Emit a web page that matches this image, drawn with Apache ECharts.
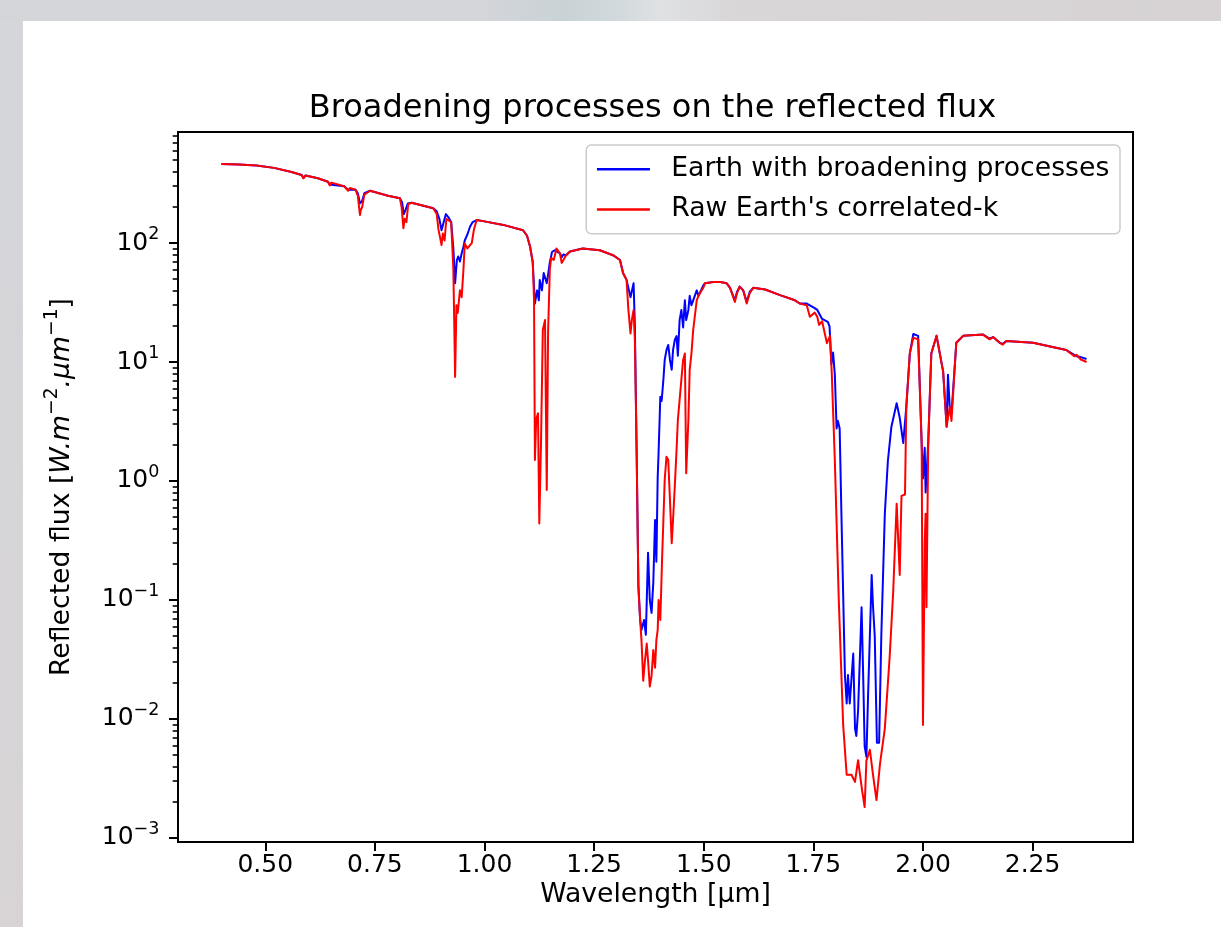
<!DOCTYPE html>
<html><head><meta charset="utf-8">
<script src="https://cdn.jsdelivr.net/npm/echarts@6/dist/echarts.min.js"></script>
<style>
html,body{margin:0;padding:0;width:1221px;height:927px;overflow:hidden;}
body{background:linear-gradient(90deg,#d3d5d9 0%,#d3d5d9 40%,#c9d3d7 46%,#cfd8db 50%,#dfe1e3 54%,#d9d6d8 60%,#d7d3d5 100%);}
#leftstrip{position:absolute;left:0;top:21px;width:23px;height:906px;background:linear-gradient(180deg,#d4d6da,#d8d4d6);}
#bg{position:absolute;left:23px;top:21px;width:1198px;height:906px;background:#fff;}
#chart{position:absolute;left:0;top:0;width:1221px;height:927px;}
</style></head>
<body>
<div id="leftstrip"></div><div id="bg"></div><div id="chart"></div>
<script>
// ---- data (wavelength in µm, flux in W.m^-2.µm^-1) ----
const xTickValues = [0.5, 0.75, 1.0, 1.25, 1.5, 1.75, 2.0, 2.25];
const yTickValues = [1e-3, 1e-2, 1e-1, 1e0, 1e1, 1e2];
const seriesNames = ['Earth with broadening processes', "Raw Earth's correlated-k"];

const broadenedSpectrum = [
[0.400,461],[0.440,457],[0.480,449],[0.520,428],[0.560,395],[0.583,373],[0.587,352],[0.592,370],[0.620,350],[0.643,327],
[0.647,310],[0.651,322],[0.680,300],[0.689,280],[0.693,290],[0.706,280],[0.711,262],[0.716,216],[0.721,225],[0.726,262],
[0.739,275],[0.780,250],[0.807,238],[0.812,220],[0.816,175],[0.820,190],[0.825,215],[0.834,218],[0.883,196],[0.891,185],
[0.897,160],[0.902,128],[0.907,150],[0.912,175],[0.917,166],[0.924,150],[0.929,90],[0.933,46],[0.937,72],[0.940,77],
[0.944,70],[0.948,82],[0.952,93],[0.955,105],[0.961,118],[0.967,137],[0.973,150],[0.982,156],[1.000,152],[1.043,142],
[1.088,128],[1.097,115],[1.104,93],[1.110,69],[1.115,31],[1.120,40],[1.124,33],[1.126,49],[1.131,40],[1.135,56],
[1.142,46],[1.145,54],[1.149,69],[1.154,84],[1.160,87],[1.164,90],[1.172,82],[1.176,76],[1.180,80],[1.186,79],
[1.195,85],[1.224,90],[1.263,87],[1.293,79],[1.309,72],[1.316,56],[1.324,49],[1.333,35],[1.340,46],[1.343,20],
[1.347,1.72],[1.351,0.13],[1.355,0.068],[1.358,0.056],[1.364,0.068],[1.368,0.051],[1.373,0.25],[1.377,0.10],[1.381,0.078],[1.385,0.14],
[1.389,0.47],[1.392,0.21],[1.395,1.08],[1.397,1.72],[1.401,5.1],[1.404,4.7],[1.408,7.1],[1.411,10.4],[1.415,12.6],[1.419,13.9],
[1.423,10.4],[1.427,8.6],[1.430,12.6],[1.434,15.3],[1.438,16.5],[1.441,11.3],[1.445,22.5],[1.449,27.4],[1.453,19.5],[1.457,33],
[1.460,22.5],[1.465,27.4],[1.468,36],[1.472,30],[1.476,33],[1.484,40],[1.488,36],[1.499,44],[1.503,46],[1.522,47],
[1.538,47],[1.552,46],[1.560,42],[1.571,33],[1.576,39],[1.582,43],[1.590,40],[1.598,32],[1.605,39],[1.613,42],
[1.640,40.7],[1.674,36.5],[1.708,33],[1.719,31],[1.735,31],[1.753,28.4],[1.759,27.4],[1.770,23],[1.783,21.7],[1.787,19.8],
[1.791,9.6],[1.795,12],[1.799,7.8],[1.803,2.76],[1.806,3.2],[1.810,2.76],[1.814,0.53],[1.822,0.0234],[1.826,0.0135],[1.829,0.0234],
[1.833,0.0135],[1.841,0.0355],[1.845,0.0083],[1.848,0.0072],[1.852,0.0117],[1.860,0.087],[1.864,0.02],[1.867,0.0059],[1.871,0.0048],[1.875,0.0166],
[1.883,0.162],[1.886,0.09],[1.890,0.050],[1.895,0.0063],[1.900,0.0063],[1.905,0.050],[1.913,0.53],[1.920,1.48],[1.928,2.86],[1.940,4.5],
[1.947,3.4],[1.955,2.09],[1.962,4.2],[1.970,11.8],[1.978,17.2],[1.989,16.6],[1.997,2.09],[2.000,1.05],[2.004,1.9],[2.006,0.8],
[2.012,2.09],[2.019,11.8],[2.031,16.6],[2.046,8.3],[2.054,2.86],[2.057,7.8],[2.061,4.2],[2.065,3.66],[2.076,14.5],[2.092,16.6],
[2.137,17.0],[2.152,15.7],[2.160,16.2],[2.175,14.5],[2.182,14.2],[2.190,15.0],[2.251,14.5],[2.327,12.6],[2.345,11.5],[2.350,11.2],
[2.360,11.0],[2.373,10.6]
];

const rawSpectrum = [
[0.400,461],[0.440,457],[0.480,449],[0.520,428],[0.560,395],[0.583,373],[0.587,350],[0.592,370],[0.620,350],[0.643,327],
[0.647,305],[0.651,322],[0.680,300],[0.689,275],[0.693,290],[0.706,280],[0.711,250],[0.716,172],[0.718,190],[0.721,200],
[0.726,255],[0.739,275],[0.780,250],[0.807,238],[0.811,200],[0.815,133],[0.818,160],[0.822,150],[0.826,212],[0.834,218],
[0.883,196],[0.891,175],[0.895,130],[0.899,110],[0.902,96],[0.905,120],[0.909,105],[0.913,160],[0.917,166],[0.924,150],
[0.929,60],[0.933,7.5],[0.936,30],[0.939,25.8],[0.944,40],[0.948,35],[0.952,60],[0.955,99],[0.961,90],[0.971,100],
[0.976,130],[0.982,156],[1.000,152],[1.043,142],[1.088,128],[1.097,115],[1.104,93],[1.110,69],[1.113,33],[1.115,1.50],
[1.118,3.3],[1.122,3.7],[1.125,0.44],[1.129,2.2],[1.133,18.6],[1.138,22.5],[1.142,0.84],[1.145,17.5],[1.149,60],[1.152,75],
[1.158,72],[1.164,90],[1.172,82],[1.176,68],[1.180,72],[1.186,79],[1.195,85],[1.224,90],[1.263,87],[1.293,79],
[1.309,72],[1.316,56],[1.324,49],[1.328,28],[1.333,17.4],[1.336,22.5],[1.340,27.4],[1.343,15],[1.347,1.72],[1.351,0.13],
[1.355,0.068],[1.358,0.046],[1.362,0.021],[1.366,0.031],[1.370,0.043],[1.373,0.031],[1.377,0.0187],[1.381,0.023],[1.385,0.038],[1.389,0.027],
[1.392,0.046],[1.395,0.056],[1.397,0.10],[1.401,0.068],[1.405,0.22],[1.408,0.47],[1.411,1.02],[1.415,1.6],[1.419,1.5],[1.423,0.69],
[1.427,0.30],[1.430,0.47],[1.434,0.90],[1.438,1.82],[1.441,3.26],[1.445,4.8],[1.449,7.1],[1.453,10.4],[1.457,11.8],[1.460,1.16],
[1.465,3.26],[1.468,8.6],[1.472,11.8],[1.476,18.6],[1.484,33],[1.488,36],[1.499,42],[1.503,46],[1.522,47],[1.538,47],
[1.552,46],[1.560,42],[1.571,32],[1.576,38],[1.582,43],[1.590,40],[1.598,31],[1.605,38],[1.613,42],[1.640,40.7],
[1.674,36.5],[1.708,33],[1.719,31],[1.735,30],[1.742,24],[1.753,26],[1.759,24],[1.763,20.5],[1.770,22],[1.781,14.4],
[1.788,16.6],[1.792,8],[1.799,1.48],[1.808,0.1],[1.818,0.0089],[1.826,0.0034],[1.837,0.0034],[1.845,0.00296],[1.852,0.0045],[1.861,0.00254],
[1.867,0.00182],[1.871,0.00447],[1.879,0.0055],[1.886,0.0034],[1.894,0.00208],[1.902,0.0042],[1.913,0.0083],[1.924,0.033],[1.932,0.115],[1.940,0.645],
[1.947,0.162],[1.951,0.75],[1.959,0.77],[1.962,4.2],[1.970,11.8],[1.978,16.0],[1.989,15.5],[1.997,2.09],[2.000,0.0089],[2.004,0.3],
[2.006,0.53],[2.008,0.087],[2.012,2.09],[2.019,11.8],[2.031,16.6],[2.046,8.3],[2.054,2.86],[2.061,4.2],[2.065,3.2],[2.076,14.5],
[2.092,16.6],[2.137,17.0],[2.152,15.5],[2.160,16.2],[2.175,14.5],[2.182,14.0],[2.190,15.0],[2.251,14.5],[2.327,12.6],[2.345,11.2],
[2.350,11.5],[2.360,10.5],[2.373,10.0]
];

// ---- chart ----
const FONT = 'DejaVu Sans';
const X_MIN = 0.301, X_MAX = 2.479;
const Y_MIN = Math.pow(10, -3.034), Y_MAX = Math.pow(10, 2.933);
const yMinorTicks = [];
for (let e = -3; e <= 2; e++) for (let k = 2; k <= 9; k++) {
  const v = k * Math.pow(10, e);
  if (v > Y_MIN && v < Y_MAX) yMinorTicks.push(v);
}
function powLabel(v) {
  const e = Math.round(Math.log10(v));
  return '{b|10}{s|' + (e < 0 ? '\u2212' + (-e) : String(e)) + '}';
}

const chart = echarts.init(document.getElementById('chart'), null, {renderer: 'canvas'});
chart.setOption({
  animation: false,
  backgroundColor: 'transparent',
  title: {
    text: 'Broadening processes on the reflected flux',
    left: 647.5, top: 88, textAlign: 'center',
    textStyle: {fontFamily: FONT, fontSize: 32, fontWeight: 'normal', color: '#000', lineHeight: 32}
  },
  legend: {
    orient: 'vertical', right: 101, top: 145,
    padding: [10.7, 10.7, 10.7, 10.7],
    itemWidth: 53, itemHeight: 2.5, itemGap: 13.3, icon: 'rect',
    backgroundColor: 'rgba(255,255,255,0.8)', borderColor: '#cccccc', borderWidth: 1.5, borderRadius: 5,
    textStyle: {fontFamily: FONT, fontSize: 26.7, color: '#000', lineHeight: 26.7, padding: [0, 0, 0, 16.3]},
    data: seriesNames
  },
  grid: {left: 178, right: 88, top: 132, bottom: 85, show: true, borderColor: '#000', borderWidth: 2, backgroundColor: 'transparent'},
  xAxis: {
    type: 'value', min: X_MIN, max: X_MAX,
    axisLine: {show: true, lineStyle: {color: '#000', width: 2}},
    splitLine: {show: false},
    axisTick: {show: true, customValues: xTickValues, length: 9, lineStyle: {color: '#000', width: 2}},
    axisLabel: {customValues: xTickValues, formatter: v => v.toFixed(2), fontFamily: FONT, fontSize: 25, color: '#000', margin: 11},
    name: 'Wavelength [\u00b5m]', nameLocation: 'middle', nameGap: 40, nameMoveOverlap: false,
    nameTextStyle: {fontFamily: FONT, fontSize: 26.7, color: '#000'}
  },
  yAxis: [{
    type: 'log', min: Y_MIN, max: Y_MAX,
    axisLine: {show: true, lineStyle: {color: '#000', width: 2}},
    splitLine: {show: false},
    axisTick: {show: true, customValues: yTickValues, length: 9, lineStyle: {color: '#000', width: 2}},
    axisLabel: {
      customValues: yTickValues, formatter: powLabel, margin: 18.6, color: '#000',
      rich: {
        b: {fontFamily: FONT, fontSize: 25, lineHeight: 36, color: '#000'},
        s: {fontFamily: FONT, fontSize: 17.5, lineHeight: 17.5, verticalAlign: 'top', color: '#000'}
      }
    },
    name: 'Reflected flux [{i|W.m}{s|\u22122}{i|.\u03bcm}{s|\u22121}]',
    nameLocation: 'middle', nameRotate: 90, nameGap: 97, nameMoveOverlap: false,
    nameTextStyle: {
      fontFamily: FONT, fontSize: 26.7, color: '#000', lineHeight: 38,
      rich: {
        i: {fontFamily: FONT, fontSize: 26.7, fontStyle: 'italic', lineHeight: 38, color: '#000'},
        s: {fontFamily: FONT, fontSize: 18.7, lineHeight: 18.7, verticalAlign: 'top', color: '#000'}
      }
    }
  }, {
    type: 'log', min: Y_MIN, max: Y_MAX, position: 'left',
    axisLine: {show: false}, splitLine: {show: false},
    axisTick: {show: true, customValues: yMinorTicks, length: 5.3, lineStyle: {color: '#000', width: 1.6}},
    axisLabel: {show: false}
  }],
  series: [{
    name: seriesNames[0], type: 'line', data: broadenedSpectrum, yAxisIndex: 0,
    showSymbol: false, symbol: 'none', z: 2,
    lineStyle: {color: '#0000ff', width: 2, join: 'round'}, itemStyle: {color: '#0000ff'}
  }, {
    name: seriesNames[1], type: 'line', data: rawSpectrum, yAxisIndex: 0,
    showSymbol: false, symbol: 'none', z: 3,
    lineStyle: {color: '#ff0000', width: 2, join: 'round'}, itemStyle: {color: '#ff0000'}
  }]
});
</script>
</body></html>
